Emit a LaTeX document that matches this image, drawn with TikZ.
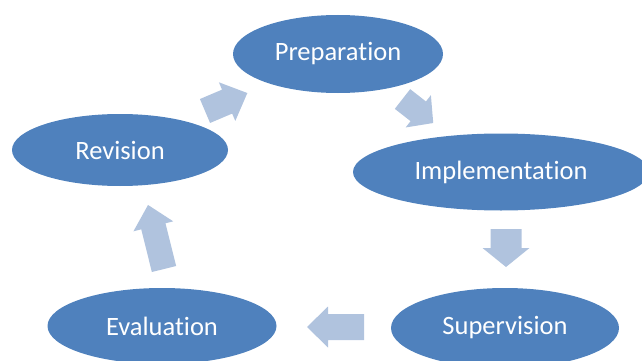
\documentclass[tikz,border=0pt]{standalone}
\usepackage{fontspec}
\setmainfont{Carlito}[Ligatures=NoCommon]
\usetikzlibrary{shapes.geometric}
\definecolor{ellfill}{HTML}{4F81BD}
\definecolor{arrfill}{HTML}{B0C3DE}
\tikzset{
  stage/.style={ellipse, fill=ellfill, draw=none, inner sep=0pt, text=white,
    font=\fontsize{26.5}{31}\selectfont},
  arrowfill/.style={fill=arrfill, draw=none}
}
% tail-mid x, y, angle, length, shaft width, head width, head length
\newcommand\blkarrow[7]{%
  \fill[arrowfill, shift={(#1,#2)}, rotate=#3]
    (0,-#5/2) -- (#4-#7,-#5/2) -- (#4-#7,-#6/2) -- (#4,0) --
    (#4-#7,#6/2) -- (#4-#7,#5/2) -- (0,#5/2) -- cycle;}
\begin{document}
\begin{tikzpicture}[x=1pt,y=-1pt]
\useasboundingbox (0,0) rectangle (642,361);
\clip (0,0) rectangle (642,361);
\node[stage, minimum width=210pt, minimum height=78pt] (prep) at (338,54) {Preparation};
\node[stage, minimum width=296pt, minimum height=77pt] (impl) at (501,172) {Implementation};
\node[stage, minimum width=228pt, minimum height=80pt] (sup) at (505,328) {Supervision};
\node[stage, minimum width=229pt, minimum height=76pt] (eval) at (162,326) {Evaluation};
\node[stage, minimum width=216pt, minimum height=72pt] (rev) at (120,150) {Revision};
\blkarrow{205}{111}{23}{46}{26}{42}{22}
\blkarrow{402.5}{99}{-38}{39}{25}{41}{19}
\blkarrow{506}{229}{-90}{38}{31}{47}{19}
\blkarrow{364}{327}{180}{57}{26}{41}{21}
\blkarrow{164}{269}{104}{66}{25}{41}{22}
\end{tikzpicture}
\end{document}
